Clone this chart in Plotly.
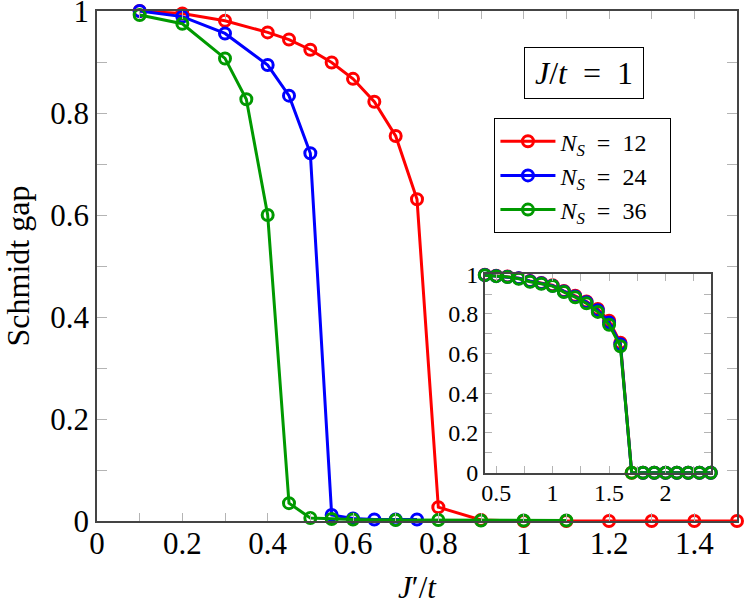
import plotly.graph_objects as go

# main panel data, J'/t vs Schmidt gap
x12 = [0.1, 0.2, 0.3, 0.4, 0.45, 0.5, 0.55, 0.6, 0.65, 0.7, 0.75, 0.8, 0.9, 1.0, 1.1, 1.2, 1.3, 1.4, 1.5]
y12 = [1.0, 0.995, 0.981, 0.958, 0.944, 0.924, 0.899, 0.867, 0.822, 0.755, 0.631, 0.027, 0.002, 0.0, 0.0, 0.0, 0.0, 0.0, 0.0]

x24 = [0.1, 0.2, 0.3, 0.4, 0.45, 0.5, 0.55, 0.6, 0.65, 0.7, 0.75]
y24 = [1.0, 0.989, 0.956, 0.894, 0.834, 0.721, 0.012, 0.005, 0.003, 0.003, 0.003]

x36 = [0.1, 0.2, 0.3, 0.35, 0.4, 0.45, 0.5, 0.55, 0.6, 0.7, 0.8, 0.9, 1.0, 1.1]
y36 = [0.992, 0.975, 0.907, 0.827, 0.6, 0.035, 0.006, 0.004, 0.003, 0.002, 0.002, 0.001, 0.001, 0.001]

# inset data
xin = [0.4, 0.5, 0.6, 0.7, 0.8, 0.9, 1.0, 1.1, 1.2, 1.3, 1.4, 1.5, 1.6, 1.7,
       1.8, 1.9, 2.0, 2.1, 2.2, 2.3, 2.4]
yin12 = [0.997, 0.992, 0.988, 0.980, 0.966, 0.956, 0.944, 0.915, 0.891, 0.862, 0.825, 0.765, 0.655, 0.0,
         0.0, 0.0, 0.0, 0.0, 0.0, 0.0, 0.0]
yin24 = [0.996, 0.991, 0.987, 0.979, 0.964, 0.954, 0.942, 0.913, 0.888, 0.859, 0.818, 0.756, 0.647, -0.003,
         0.0, 0.0, 0.0, 0.0, 0.0, 0.0, 0.0]
yin36 = [0.995, 0.990, 0.986, 0.977, 0.962, 0.952, 0.940, 0.910, 0.884, 0.853, 0.810, 0.745, 0.637, 0.0,
         0.0, 0.0, 0.0, 0.0, 0.0, 0.0, 0.0]

names = ["<i>N</i><sub><i>S</i></sub>&nbsp;&nbsp;=&nbsp;&nbsp;12&nbsp;&nbsp;&nbsp;",
         "<i>N</i><sub><i>S</i></sub>&nbsp;&nbsp;=&nbsp;&nbsp;24&nbsp;&nbsp;&nbsp;",
         "<i>N</i><sub><i>S</i></sub>&nbsp;&nbsp;=&nbsp;&nbsp;36&nbsp;&nbsp;&nbsp;"]
colors = ["#ff0000", "#0000ff", "#009900"]

FONT = "Liberation Serif"
TICKGREY = "#b4b4b4"
AXGREY = "#444444"

fig = go.Figure()

main = [(x12, y12), (x24, y24), (x36, y36)]
for (xs, ys), nm, c in zip(main, names, colors):
    fig.add_trace(go.Scatter(
        x=xs, y=ys, name=nm, mode="lines+markers",
        line=dict(color=c, width=3),
        marker=dict(symbol="circle-open", size=11, line=dict(width=3, color=c)),
        cliponaxis=False,
    ))

for ys, c in zip([yin12, yin24, yin36], colors):
    fig.add_trace(go.Scatter(
        x=xin, y=ys, mode="lines+markers", showlegend=False,
        xaxis="x2", yaxis="y2",
        line=dict(color=c, width=3),
        marker=dict(symbol="circle-open", size=11, line=dict(width=3, color=c)),
        cliponaxis=False,
    ))

axis_common = dict(
    showgrid=False, zeroline=False, showline=True, linecolor=AXGREY, linewidth=1.5,
    mirror="ticks", ticks="inside", tickcolor=TICKGREY, tickwidth=1.2,
    automargin=False, ticklabeloverflow="allow",
)

fig.update_layout(
    width=747, height=605,
    margin=dict(l=97, r=10, t=11, b=84),
    paper_bgcolor="white", plot_bgcolor="white",
    font=dict(family=FONT, size=31, color="black"),
    xaxis=dict(
        range=[0, 1.5], dtick=0.2, tick0=0, ticklen=8, ticklabelstandoff=-6,
        minor=dict(dtick=0.1, ticks="inside", ticklen=8, tickcolor=TICKGREY),
        title=dict(text="<i>J</i>′/<i>t</i>", font=dict(size=31), standoff=17),
        **axis_common,
    ),
    yaxis=dict(
        range=[0, 1], dtick=0.2, tick0=0, ticklen=10,
        minor=dict(dtick=0.1, ticks="inside", ticklen=10, tickcolor=TICKGREY),
        title=dict(text="Schmidt gap", font=dict(size=32), standoff=36),
        **axis_common,
    ),
    xaxis2=dict(
        domain=[0.606, 0.959], anchor="y2", range=[0.4, 2.4],
        dtick=0.5, tick0=0, ticklen=7, ticklabelstandoff=-2,
        minor=dict(dtick=0.25, ticks="inside", ticklen=7, tickcolor=TICKGREY),
        tickfont=dict(size=24),
        **axis_common,
    ),
    yaxis2=dict(
        domain=[0.0947, 0.484], anchor="x2", range=[0, 1],
        dtick=0.2, tick0=0, ticklen=7,
        minor=dict(dtick=0.1, ticks="inside", ticklen=7, tickcolor=TICKGREY),
        tickfont=dict(size=24),
        **axis_common,
    ),
    legend=dict(
        x=0.621, y=0.79, xanchor="left", yanchor="top",
        bordercolor="black", borderwidth=1, bgcolor="white",
        font=dict(size=24), itemwidth=55,
    ),
    showlegend=True,
)

fig.add_annotation(
    xref="paper", yref="paper", x=0.761, y=0.879,
    xanchor="center", yanchor="middle",
    text="<i>J</i>/<i>t</i>&nbsp; = &nbsp;1", showarrow=False,
    font=dict(size=32), bordercolor="black", borderwidth=1,
    borderpad=4, bgcolor="white", width=110, height=42,
)

# drop the default page margin so the figure sits at the window's corner
fig.write_html("out.html", config={"displayModeBar": False},
               post_script="document.body.style.margin = '0';")
